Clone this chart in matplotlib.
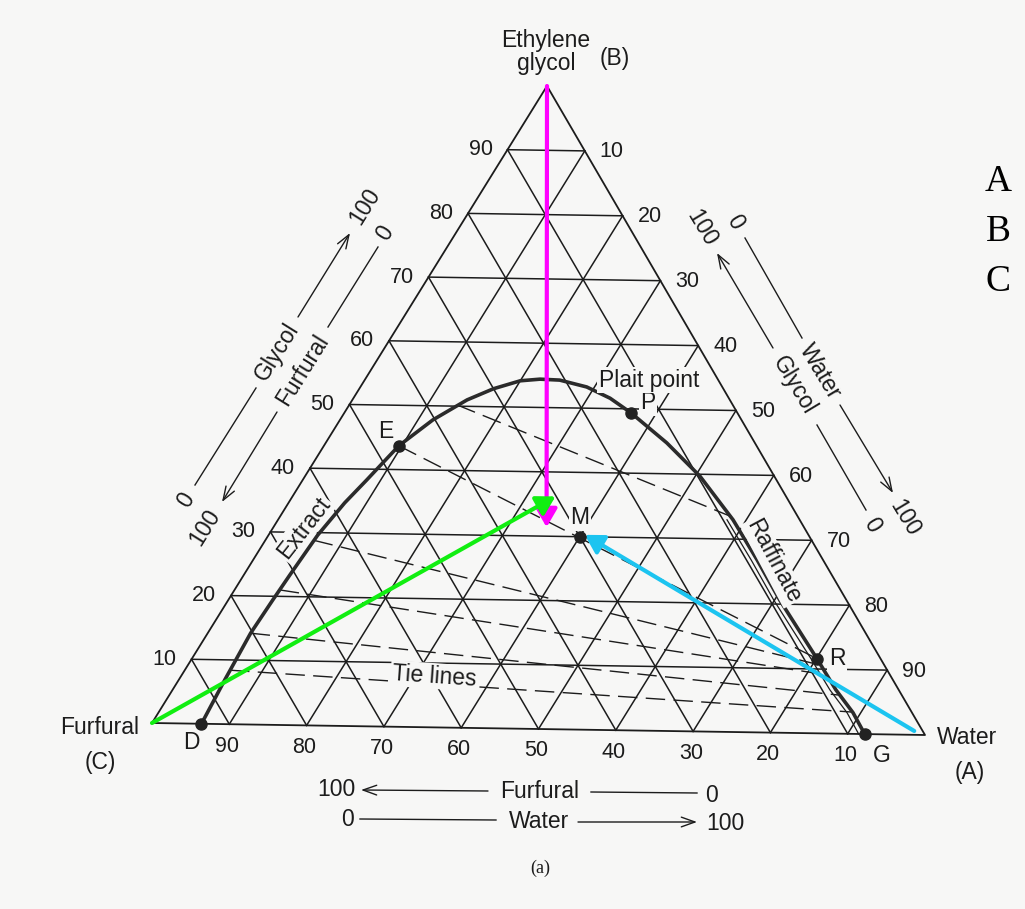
import numpy as np
import matplotlib.pyplot as plt
from matplotlib.transforms import offset_copy

plt.rcParams['font.family'] = ['Liberation Sans', 'DejaVu Sans']

# corners of the diagram in figure pixels: furfural (C), water (A), glycol (B)
C_XY = np.array([152.0, 723.0])
A_XY = np.array([925.0, 735.0])
B_XY = np.array([547.0, 86.0])

# binodal curve, wt% (glycol, water), furfural = remainder; D -> E -> P -> R -> G
curve_glycol = [0.0, 6.9, 14.2, 19.4, 23.3, 29.6, 34.7, 38.3, 43.7, 47.8, 51.0,
                52.8, 54.1, 54.4, 54.3, 53.3, 51.6, 49.4, 44.8, 39.7, 33.0,
                26.8, 20.6, 11.6, 6.8, 3.3, 0.0]
curve_water = [6.4, 5.9, 5.5, 5.7, 5.9, 6.3, 7.2, 8.2, 9.6, 11.9, 14.7,
               17.2, 20.0, 22.4, 25.0, 29.0, 32.9, 36.7, 43.7, 50.6, 58.3,
               64.6, 70.7, 80.1, 85.0, 89.0, 92.2]

# tie lines: extract end and raffinate end (glycol, water)
tie_ext_glycol = [50.2, 43.7, 28.8, 21.0, 14.2, 8.4]
tie_ext_water = [13.8, 9.6, 6.2, 5.8, 5.5, 5.8]
tie_raf_glycol = [33.5, 11.6, 10.6, 9.1, 6.0, 3.4]
tie_raf_water = [57.8, 80.1, 81.1, 82.7, 85.8, 88.7]

# labelled points (water, glycol)
points = {'D': (6.4, 0.0), 'E': (9.6, 43.7), 'P': (36.7, 49.4),
          'M': (40.0, 30.0), 'R': (80.1, 11.6), 'G': (92.2, 0.0)}

# feed arrows: start and tip (water, glycol)
arrow_magenta = [(0.0, 100.0), (35.0, 31.4)]
arrow_green = [(0.0, 0.0), (33.7, 36.2)]
arrow_cyan = [(98.3, 0.6), (40.5, 30.3)]

ticks = list(range(10, 100, 10))

BG = '#f7f7f6'
INK = '#1c1c1c'


def tern(water, glycol):
    w = np.asarray(water, float) / 100
    g = np.asarray(glycol, float) / 100
    x = C_XY[0] + w * (A_XY[0] - C_XY[0]) + g * (B_XY[0] - C_XY[0])
    y = C_XY[1] + w * (A_XY[1] - C_XY[1]) + g * (B_XY[1] - C_XY[1])
    return x, y


fig = plt.figure(figsize=(10.25, 9.09), dpi=100, facecolor=BG)
ax = fig.add_axes([0, 0, 1, 1])
ax.set_xlim(0, 1025)
ax.set_ylim(909, 0)
ax.axis('off')
ax.set_facecolor(BG)

# grid every 10 %
for v in ticks:
    ax.plot(*tern([0, 100 - v], [v, v]), color=INK, lw=1.1, zorder=1)
    ax.plot(*tern([v, v], [0, 100 - v]), color=INK, lw=1.1, zorder=1)
    ax.plot(*tern([0, 100 - v], [100 - v, 0]), color=INK, lw=1.1, zorder=1)
ax.plot(*tern([0, 100, 0, 0], [0, 0, 100, 0]), color=INK, lw=1.3, zorder=1)

# edge numbers
num = dict(fontsize=15.5, ha='center', va='center', color=INK)
for v in ticks:
    x, y = tern(0, v)
    ax.text(x - 27, y, str(v), **num)
    x, y = tern(v, 100 - v)
    ax.text(x + 27, y + 1, str(v), **num)
    x, y = tern(100 - v, 0)
    ax.text(x - 2, y + 22, str(v), **num)

# tie lines
for eg, ew, rg, rw in zip(tie_ext_glycol, tie_ext_water, tie_raf_glycol, tie_raf_water):
    ax.plot(*tern([ew, rw], [eg, rg]), color=INK, lw=1.0,
            linestyle=(0, (14, 6)), zorder=2)

# binodal curve (with the faint second print line on the raffinate side)
ax.plot(*tern(curve_water, curve_glycol), color='#2b2b2b', lw=2.6, zorder=3,
        solid_joinstyle='round')
shift = offset_copy(ax.transData, fig=fig, x=-6, y=0, units='dots')
ax.plot(*tern(curve_water[20:], curve_glycol[20:]), color=INK, lw=0.9,
        transform=shift, zorder=2)

for name, (w, g) in points.items():
    x, y = tern(w, g)
    ax.plot(x, y, 'o', color='#222222', ms=8, zorder=7)

lbl = dict(fontsize=16.5, ha='center', va='center', color=INK, zorder=5,
           bbox=dict(facecolor=BG, edgecolor='none', pad=1))
ax.text(*(np.array(tern(*points['D'])) + [-10, 19]), 'D', **lbl)
ax.text(*(np.array(tern(*points['G'])) + [17, 21]), 'G', **lbl)
ax.text(*(np.array(tern(*points['E'])) + [-13, -14]), 'E', **lbl)
ax.text(*(np.array(tern(*points['P'])) + [17, -10]), 'P', **lbl)
ax.text(*(np.array(tern(*points['M'])) + [0, -19]), 'M', **lbl)
ax.text(*(np.array(tern(*points['R'])) + [20, 0]), 'R', **lbl)
ax.text(649, 380, 'Plait point', **lbl)
ax.text(434, 676, 'Tie lines', rotation=-4, **lbl)
ax.text(304, 528, 'Extract', rotation=52, **lbl)
ax.text(773, 561, 'Raffinate', rotation=-62, **lbl)

# corner names
txt = dict(fontsize=16.5, ha='center', va='center', color=INK)
ax.text(546, 52, 'Ethylene\nglycol', linespacing=1.05, **txt)
ax.text(615, 59, '(B)', **txt)
ax.text(100, 727, 'Furfural', **txt)
ax.text(100, 762, '(C)', **txt)
ax.text(967, 737, 'Water', **txt)
ax.text(970, 773, '(A)', **txt)

# reading scales beside the edges
thin = dict(color=INK, lw=1.0)
head = dict(arrowstyle='->,head_length=0.7,head_width=0.25', color=INK, lw=1.0,
            mutation_scale=14, shrinkA=0, shrinkB=0)


def scale(segs, arrow_seg):
    for (x0, y0), (x1, y1) in segs:
        ax.plot([x0, x1], [y0, y1], **thin)
    (x0, y0), (x1, y1) = arrow_seg
    ax.annotate('', xy=(x1, y1), xytext=(x0, y0), arrowprops=head)


# left side
scale([((195, 485), (256, 388))], ((298, 317), (350, 233)))
ax.text(277, 352, 'Glycol', rotation=58, **txt)
ax.text(186, 500, '0', rotation=58, **txt)
ax.text(365, 206, '100', rotation=58, **txt)
scale([((378, 247), (328, 327))], ((277, 412), (222, 502)))
ax.text(303, 370, 'Furfural', rotation=58, **txt)
ax.text(385, 233, '0', rotation=58, **txt)
ax.text(205, 527, '100', rotation=58, **txt)

# right side
scale([((817, 425), (866, 510))], ((773, 348), (717, 253)))
ax.text(794, 385, 'Glycol', rotation=-59, **txt)
ax.text(702, 228, '100', rotation=-59, **txt)
ax.text(872, 525, '0', rotation=-59, **txt)
scale([((745, 238), (802, 338))], ((840, 405), (893, 493)))
ax.text(820, 371, 'Water', rotation=-59, **txt)
ax.text(735, 222, '0', rotation=-59, **txt)
ax.text(905, 518, '100', rotation=-59, **txt)

# bottom
scale([((591, 792), (697, 793))], ((488, 791), (361, 790)))
ax.text(336, 790, '100', **txt)
ax.text(540, 792, 'Furfural', **txt)
ax.text(712, 795, '0', **txt)
scale([((360, 819), (496, 820))], ((578, 822), (697, 822)))
ax.text(347, 819, '0', **txt)
ax.text(539, 822, 'Water', **txt)
ax.text(725, 823, '100', **txt)

ax.text(540, 868, '(a)', fontsize=13, ha='center', va='center', color=INK,
        family='Liberation Serif')

# feed / solvent arrows meeting at the mixture point
for (s, t), col in [(arrow_magenta, '#ff00ff'), (arrow_green, '#11ee11'),
                    (arrow_cyan, '#1cc4f0')]:
    ax.annotate('', xy=tern(*t), xytext=tern(*s), zorder=6,
                arrowprops=dict(arrowstyle='-|>,head_length=0.55,head_width=0.32',
                                color=col, lw=3.0, mutation_scale=20,
                                shrinkA=0, shrinkB=0))

for i, ch in enumerate(['A', 'B', 'C']):
    ax.text(998, 182 + 50 * i, ch, fontsize=27, ha='center', va='center',
            color='black', family='Liberation Serif')

fig.savefig('out.png', dpi=100, facecolor=BG)
